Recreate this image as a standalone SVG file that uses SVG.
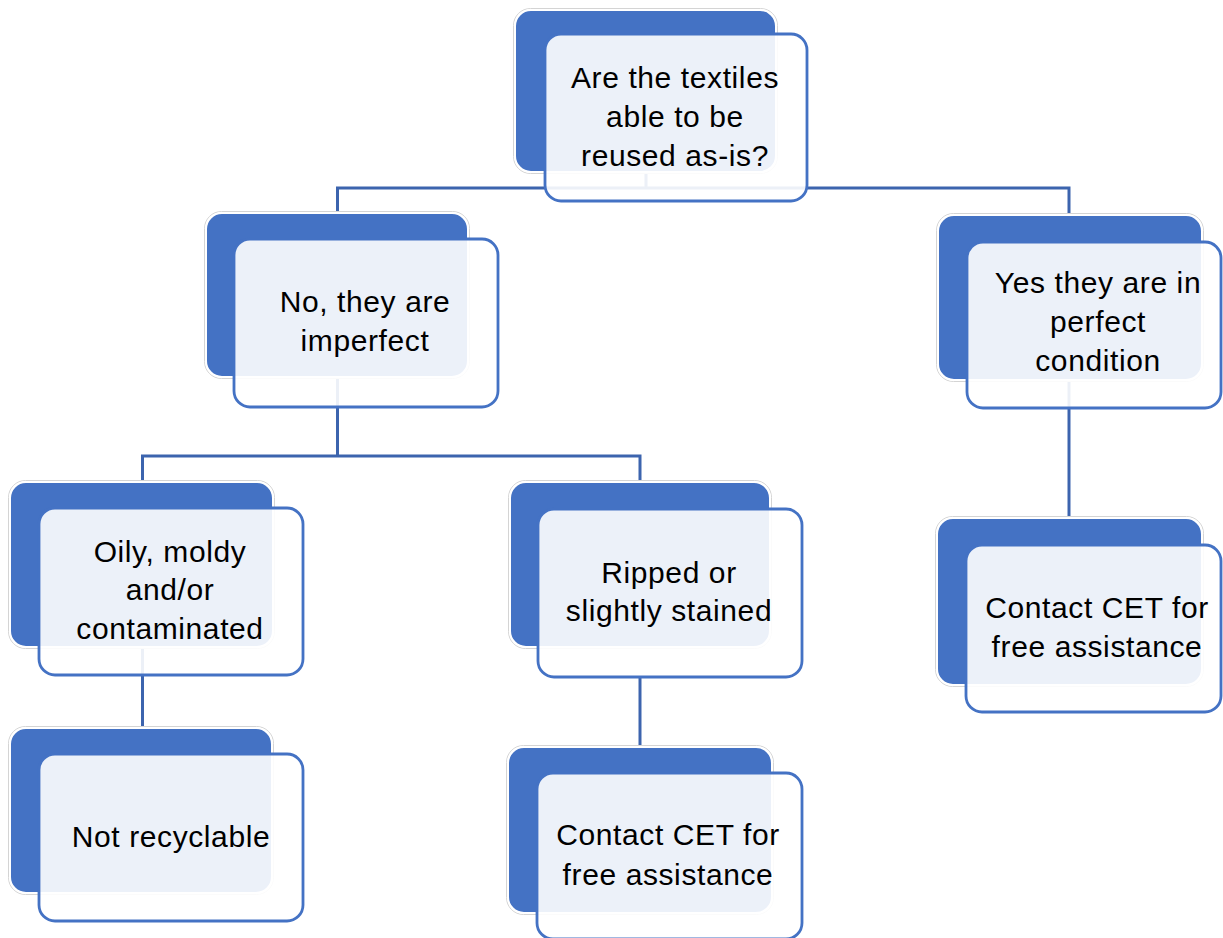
<svg xmlns="http://www.w3.org/2000/svg" width="1223" height="938" viewBox="0 0 1223 938">
<style>
.bg{fill:#4472C4;stroke:#ffffff;stroke-width:2}
.halo{fill:none;stroke:#d4d4d4;stroke-width:1}
.fg{fill:#ffffff;fill-opacity:0.9;stroke:#4472C4;stroke-width:2.8}
.t{font-family:"Liberation Sans",Arial,sans-serif;font-size:30px;letter-spacing:0.6px;fill:#000;text-anchor:middle}
.c{fill:none;stroke:#3C64AE;stroke-width:3}
</style>
<rect width="1223" height="938" fill="#ffffff"/>
<g id="connectors">
<path class="c" d="M646 172 V188 M337.5 213 V188 H1069 V215"/>
<path class="c" d="M337.5 377 V456 M142.5 482 V456 H640 V482"/>
<path class="c" d="M142.5 647 V728"/>
<path class="c" d="M640 677 V747"/>
<path class="c" d="M1069 380 V518"/>
</g>
<g id="n1">
<rect class="halo" x="513.5" y="8.5" width="264" height="165" rx="17"/>
<rect class="bg" x="515" y="10" width="261" height="162" rx="16"/>
<rect class="fg" x="545" y="34" width="262" height="167" rx="16"/>
<text class="t" x="675" y="88">Are the textiles</text>
<text class="t" x="675" y="127">able to be</text>
<text class="t" x="675" y="166">reused as-is?</text>
</g>
<g id="n2">
<rect class="halo" x="204.5" y="211.5" width="265" height="167" rx="17"/>
<rect class="bg" x="206" y="213" width="262" height="164" rx="16"/>
<rect class="fg" x="234" y="239" width="264" height="168" rx="16"/>
<text class="t" x="365" y="312">No, they are</text>
<text class="t" x="365" y="351">imperfect</text>
</g>
<g id="n3">
<rect class="halo" x="936.5" y="213.5" width="267" height="168" rx="17"/>
<rect class="bg" x="938" y="215" width="264" height="165" rx="16"/>
<rect class="fg" x="967" y="242" width="254" height="166" rx="16"/>
<text class="t" x="1098" y="293">Yes they are in</text>
<text class="t" x="1098" y="332">perfect</text>
<text class="t" x="1098" y="371">condition</text>
</g>
<g id="n4">
<rect class="halo" x="8.5" y="480.5" width="266" height="168" rx="17"/>
<rect class="bg" x="10" y="482" width="263" height="165" rx="16"/>
<rect class="fg" x="39" y="508" width="264" height="167" rx="16"/>
<text class="t" x="170" y="562">Oily, moldy</text>
<text class="t" x="170" y="600">and/or</text>
<text class="t" x="170" y="639">contaminated</text>
</g>
<g id="n5">
<rect class="halo" x="508.5" y="480.5" width="263" height="168" rx="17"/>
<rect class="bg" x="510" y="482" width="260" height="165" rx="16"/>
<rect class="fg" x="538" y="509" width="264" height="168" rx="16"/>
<text class="t" x="669" y="583">Ripped or</text>
<text class="t" x="669" y="621">slightly stained</text>
</g>
<g id="n6">
<rect class="halo" x="8.5" y="726.5" width="265" height="168" rx="17"/>
<rect class="bg" x="10" y="728" width="262" height="165" rx="16"/>
<rect class="fg" x="39" y="754" width="264" height="167" rx="16"/>
<text class="t" x="171" y="847">Not recyclable</text>
</g>
<g id="n7">
<rect class="halo" x="506.5" y="745.5" width="267" height="169" rx="17"/>
<rect class="bg" x="508" y="747" width="264" height="166" rx="16"/>
<rect class="fg" x="537" y="773" width="265" height="166" rx="16"/>
<text class="t" x="668" y="845">Contact CET for</text>
<text class="t" x="668" y="885">free assistance</text>
</g>
<g id="n8">
<rect class="halo" x="935.5" y="516.5" width="268" height="170" rx="17"/>
<rect class="bg" x="937" y="518" width="265" height="167" rx="16"/>
<rect class="fg" x="966" y="545" width="255" height="167" rx="16"/>
<text class="t" x="1097" y="618">Contact CET for</text>
<text class="t" x="1097" y="657">free assistance</text>
</g>
</svg>
